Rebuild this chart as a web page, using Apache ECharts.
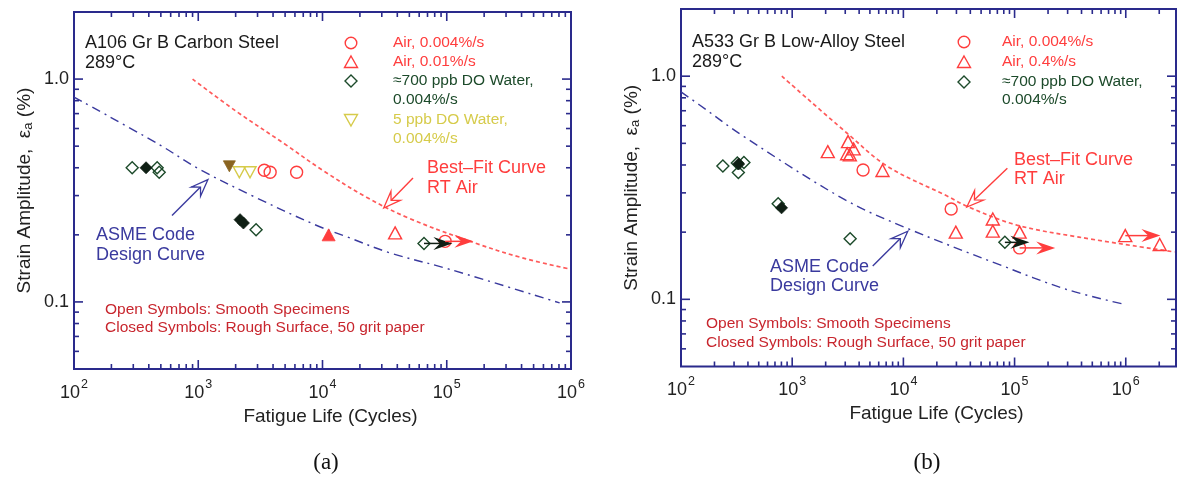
<!DOCTYPE html>
<html>
<head>
<meta charset="utf-8">
<script src="https://cdn.jsdelivr.net/npm/echarts@6/dist/echarts.min.js"></script>
<style>
  html, body { margin: 0; padding: 0; background: #ffffff; }
  #chart { width: 1179px; height: 477px; }
</style>
</head>
<body>
<div id="chart"></div>
<script>
// ---------- Axis ticks ----------
const xMajorTicks = [1e2, 1e3, 1e4, 1e5, 1e6];
const yMajorTicks = [0.1, 1.0];
const minorMultipliers = [2, 3, 4, 5, 6, 7, 8, 9];
const yMinorTicks = [0.06, 0.07, 0.08, 0.09, 0.2, 0.3, 0.4, 0.5, 0.6, 0.7, 0.8, 0.9];

// ---------- (a) A106 Gr B carbon steel, 289°C ----------
// [fatigue life (cycles), strain amplitude (%)]
const a106AirSlowOpen   = [[3400, 0.39], [3790, 0.382], [6190, 0.382], [97000, 0.187]];
const a106AirFastOpen   = [[38400, 0.204]];
const a106AirFastClosed = [[11200, 0.200]];
const a106WaterOpen     = [[294, 0.400], [467, 0.400], [485, 0.382], [2920, 0.211], [65600, 0.183]];
const a106WaterClosed   = [[380, 0.400], [2170, 0.234], [2310, 0.226]];
const a106LowDOOpen     = [[2140, 0.382], [2610, 0.382]];
const a106LowDOClosed   = [[1780, 0.406]];
// run-out tests: [start cycles, strain, arrow tip cycles]
const a106RunoutWater   = [[65600, 0.183, 111000]];
const a106RunoutAir     = [[97000, 0.187, 164000]];
const a106BestFitAir    = [[900, 1.0], [2000, 0.72], [5000, 0.51], [10000, 0.39], [22600, 0.295], [50000, 0.237],
                           [163000, 0.185], [400000, 0.158], [947000, 0.141]];
const a106AsmeDesign    = [[100, 0.83], [480, 0.51], [1030, 0.393], [2770, 0.298], [8700, 0.222], [15700, 0.196],
                           [34900, 0.166], [106000, 0.140], [810000, 0.099]];

// ---------- (b) A533 Gr B low-alloy steel, 289°C ----------
const a533AirSlowOpen   = [[4340, 0.380], [26900, 0.254], [111000, 0.170]];
const a533AirFastOpen   = [[2090, 0.459], [3180, 0.509], [3120, 0.449], [3570, 0.472], [3300, 0.444],
                           [6490, 0.378], [29600, 0.200], [63700, 0.229], [63700, 0.202], [111000, 0.200],
                           [990000, 0.193], [2020000, 0.176]];
const a533WaterOpen     = [[238, 0.396], [321, 0.408], [328, 0.370], [368, 0.410], [748, 0.268], [3320, 0.187], [81800, 0.180]];
const a533WaterClosed   = [[330, 0.404], [802, 0.257]];
const a533RunoutWater   = [[81800, 0.180, 136000]];
const a533RunoutAir     = [[111000, 0.170, 232000], [990000, 0.193, 2050000]];
const a533BestFitAir    = [[807, 1.0], [3120, 0.555], [7210, 0.394], [24500, 0.291], [38700, 0.259], [105000, 0.215],
                           [380000, 0.190], [2750000, 0.163]];
const a533AsmeDesign    = [[100, 0.85], [147, 0.743], [368, 0.536], [3000, 0.279], [10600, 0.209], [73100, 0.143],
                           [290000, 0.111], [968000, 0.095]];

// callout arrows: [tail cycles, tail strain, tip cycles, tip strain]
const a106Callouts = { asme: [615, 0.244, 1197, 0.354], bestFit: [53500, 0.360, 31100, 0.264] };
const a533Callouts = { asme: [5300, 0.141, 10960, 0.202], bestFit: [86100, 0.387, 37200, 0.259] };

// ---------- styling ----------
const AXIS = '#2a2a8c';
const RED = '#ff3d3d';
const GREEN = '#1c4a2a';
const DARK = '#0f1f14';
const YELLOW = '#d6cb4a';
const BROWN = '#8a6420';
const BLUE = '#3a3a9e';
const INK = '#222222';
const FONT = '"Liberation Sans", Arial, Helvetica, sans-serif';
const SERIF = '"Liberation Serif", "Times New Roman", serif';

const panels = [
  { grid: { left: 74, top: 12, width: 497, height: 357 }, xMax: 1e6 },
  { grid: { left: 681, top: 9, width: 496, height: 357.5 }, xMax: 2.83e6 }
];

function tickData(xMax) {
  const d = [];
  xMajorTicks.forEach(v => { if (v <= xMax) d.push([v, 0.05, 0]); });
  xMajorTicks.forEach(v => minorMultipliers.forEach(m => { const t = v * m; if (t < xMax) d.push([t, 0.05, 1]); }));
  yMajorTicks.forEach(v => d.push([100, v, 2]));
  yMinorTicks.forEach(v => d.push([100, v, 3]));
  return d;
}

function tickSeries(idx, xMax) {
  return {
    type: 'custom', xAxisIndex: idx, yAxisIndex: idx, silent: true, clip: false, z: 5,
    dimensions: ['x', 'y', 'k'], encode: { x: 0, y: 1 },
    data: tickData(xMax),
    renderItem(params, api) {
      const cs = params.coordSys;
      const k = api.value(2);
      const p = api.coord([api.value(0), api.value(1)]);
      const len = (k === 0 || k === 2) ? 9 : 5;
      const st = { stroke: AXIS, lineWidth: 1.6 };
      if (k < 2) {
        return { type: 'group', children: [
          { type: 'line', shape: { x1: p[0], y1: cs.y + cs.height, x2: p[0], y2: cs.y + cs.height - len }, style: st },
          { type: 'line', shape: { x1: p[0], y1: cs.y, x2: p[0], y2: cs.y + len }, style: st }
        ]};
      }
      return { type: 'group', children: [
        { type: 'line', shape: { x1: cs.x, y1: p[1], x2: cs.x + len, y2: p[1] }, style: st },
        { type: 'line', shape: { x1: cs.x + cs.width, y1: p[1], x2: cs.x + cs.width - len, y2: p[1] }, style: st }
      ]};
    }
  };
}

function scatter(idx, data, symbol, size, stroke, fill, rotate) {
  return {
    type: 'scatter', xAxisIndex: idx, yAxisIndex: idx, data, symbol, symbolSize: size,
    symbolRotate: rotate || 0, z: 4, silent: true,
    itemStyle: { color: fill || 'rgba(255,255,255,0)', borderColor: stroke, borderWidth: fill ? 0.8 : 1.4, opacity: 1 }
  };
}

function curve(idx, data, color, dash, width) {
  return {
    type: 'line', xAxisIndex: idx, yAxisIndex: idx, data, smooth: 0.35, showSymbol: false, z: 2, silent: true,
    lineStyle: { color, type: dash, width }
  };
}

// solid run-out arrows with a notched head
function runoutSeries(idx, data, color) {
  return {
    type: 'custom', xAxisIndex: idx, yAxisIndex: idx, silent: true, clip: false, z: 6,
    dimensions: ['x0', 'y', 'x1'], encode: { x: [0, 2], y: 1 },
    data,
    renderItem(params, api) {
      const p0 = api.coord([api.value(0), api.value(1)]);
      const p1 = api.coord([api.value(2), api.value(1)]);
      const L = 19, W = 6.5;
      return { type: 'group', children: [
        { type: 'line', shape: { x1: p0[0], y1: p0[1], x2: p1[0] - L * 0.6, y2: p1[1] }, style: { stroke: color, lineWidth: 1.5 } },
        { type: 'polygon', shape: { points: [[p1[0], p1[1]], [p1[0] - L, p1[1] - W], [p1[0] - L * 0.65, p1[1]], [p1[0] - L, p1[1] + W]] },
          style: { fill: color } }
      ]};
    }
  };
}

// hollow callout arrows pointing at the curves
function calloutSeries(idx, data, color) {
  return {
    type: 'custom', xAxisIndex: idx, yAxisIndex: idx, silent: true, clip: false, z: 6,
    dimensions: ['x0', 'y0', 'x1', 'y1'], encode: { x: [0, 2], y: [1, 3] },
    data,
    renderItem(params, api) {
      const a = api.coord([api.value(0), api.value(1)]);
      const b = api.coord([api.value(2), api.value(3)]);
      const dx = b[0] - a[0], dy = b[1] - a[1];
      const n = Math.hypot(dx, dy), ux = dx / n, uy = dy / n, vx = -uy, vy = ux;
      const L = 17, W = 6.5, notch = 0.62;
      const base = [b[0] - ux * L, b[1] - uy * L];
      const nb = [b[0] - ux * L * notch, b[1] - uy * L * notch];
      return { type: 'group', children: [
        { type: 'line', shape: { x1: a[0], y1: a[1], x2: nb[0], y2: nb[1] }, style: { stroke: color, lineWidth: 1.4 } },
        { type: 'polygon', shape: { points: [b, [base[0] + vx * W, base[1] + vy * W], nb, [base[0] - vx * W, base[1] - vy * W]] },
          style: { fill: '#ffffff', stroke: color, lineWidth: 1.3 } }
      ]};
    }
  };
}

const xAxes = panels.map((p, i) => ({
  type: 'log', logBase: 10, gridIndex: i, min: 100, max: p.xMax,
  axisLine: { show: false }, axisTick: { show: false }, splitLine: { show: false },
  name: 'Fatigue Life (Cycles)', nameLocation: 'middle', nameGap: 37,
  nameTextStyle: { fontFamily: FONT, fontSize: 19, color: INK, padding: [0, 0, 0, 16] },
  axisLabel: {
    margin: 9, showMinLabel: true, showMaxLabel: true,
    formatter(v) {
      const e = Math.round(Math.log10(v));
      if (Math.abs(Math.log10(v) - e) > 1e-6) return '';
      return '{b|10}{s|' + e + '}';
    },
    rich: {
      b: { fontFamily: FONT, fontSize: 18, color: INK, verticalAlign: 'bottom', padding: [6, 0, 0, 0] },
      s: { fontFamily: FONT, fontSize: 12.5, color: INK, verticalAlign: 'top', padding: [0, 0, 0, 1] }
    }
  }
}));

const yAxes = panels.map((p, i) => ({
  type: 'log', logBase: 10, gridIndex: i, min: 0.05, max: 2,
  axisLine: { show: false }, axisTick: { show: false }, splitLine: { show: false },
  name: '{t|Strain Amplitude,  ε}{sub|a}{t| (%)}', nameLocation: 'middle', nameRotate: 90, nameGap: 39,
  nameTextStyle: {
    rich: {
      t: { fontFamily: FONT, fontSize: 19, color: INK },
      sub: { fontFamily: FONT, fontSize: 13, color: INK, verticalAlign: 'bottom', padding: [7, 0, 0, 0] }
    }
  },
  axisLabel: {
    margin: 5, fontFamily: FONT, fontSize: 18, color: INK,
    formatter(v) {
      if (Math.abs(v - 0.1) < 1e-6) return '0.1';
      if (Math.abs(v - 1) < 1e-6) return '1.0';
      return '';
    }
  }
}));

const series = [
  tickSeries(0, panels[0].xMax),
  tickSeries(1, panels[1].xMax),

  curve(0, a106BestFitAir, '#ff5a5a', [4, 3], 1.7),
  curve(0, a106AsmeDesign, BLUE, [9, 5, 2, 5], 1.4),
  curve(1, a533BestFitAir, '#ff5a5a', [4, 3], 1.7),
  curve(1, a533AsmeDesign, BLUE, [9, 5, 2, 5], 1.4),

  scatter(0, a106WaterOpen, 'diamond', 12, GREEN),
  scatter(0, a106WaterClosed, 'diamond', 12, DARK, DARK),
  scatter(0, a106LowDOOpen, 'triangle', [12, 11], YELLOW, null, 180),
  scatter(0, a106LowDOClosed, 'triangle', [12, 11], BROWN, BROWN, 180),
  scatter(0, a106AirSlowOpen, 'circle', 12, RED),
  scatter(0, a106AirFastOpen, 'triangle', [13, 12], RED),
  scatter(0, a106AirFastClosed, 'triangle', [13, 12], RED, RED),

  scatter(1, a533WaterOpen, 'diamond', 12, GREEN),
  scatter(1, a533WaterClosed, 'diamond', 12, DARK, DARK),
  scatter(1, a533AirSlowOpen, 'circle', 12, RED),
  scatter(1, a533AirFastOpen, 'triangle', [13, 12], RED),

  runoutSeries(0, a106RunoutWater, DARK),
  runoutSeries(0, a106RunoutAir, RED),
  runoutSeries(1, a533RunoutWater, DARK),
  runoutSeries(1, a533RunoutAir, RED),

  calloutSeries(0, [a106Callouts.asme], BLUE),
  calloutSeries(0, [a106Callouts.bestFit], RED),
  calloutSeries(1, [a533Callouts.asme], BLUE),
  calloutSeries(1, [a533Callouts.bestFit], RED)
];

// ---------- text blocks and symbol key ----------
function txt(text, x, y, color, size, family, align) {
  return { type: 'text', x, y, z: 10, silent: true,
    style: { text, fill: color, fontSize: size, fontFamily: family || FONT, verticalAlign: 'middle', align: align || 'left' } };
}
function keyCircle(cx, cy, color) {
  return { type: 'circle', z: 10, silent: true, shape: { cx, cy, r: 5.8 }, style: { fill: 'none', stroke: color, lineWidth: 1.4 } };
}
function keyTriangle(cx, cy, color, down) {
  const s = down ? -1 : 1;
  return { type: 'polygon', z: 10, silent: true,
    shape: { points: [[cx, cy - 6 * s], [cx + 6.5, cy + 5.5 * s], [cx - 6.5, cy + 5.5 * s]] },
    style: { fill: 'none', stroke: color, lineWidth: 1.4 } };
}
function keyDiamond(cx, cy, color) {
  return { type: 'polygon', z: 10, silent: true,
    shape: { points: [[cx, cy - 6], [cx + 6, cy], [cx, cy + 6], [cx - 6, cy]] },
    style: { fill: 'none', stroke: color, lineWidth: 1.4 } };
}

const TITLE = 18, KEY = 15.5, NOTE = 18, FOOT = 15.5;
const graphic = [
  // panel (a)
  txt('A106 Gr B Carbon Steel', 85, 43, '#1a1a1a', TITLE),
  txt('289°C', 85, 63, '#1a1a1a', TITLE),
  keyCircle(351, 43, RED), txt('Air, 0.004%/s', 393, 43, RED, KEY),
  keyTriangle(351, 62, RED), txt('Air, 0.01%/s', 393, 62, RED, KEY),
  keyDiamond(351, 81, GREEN), txt('≈700 ppb DO Water,', 393, 81, GREEN, KEY),
  txt('0.004%/s', 393, 100, GREEN, KEY),
  keyTriangle(351, 120, YELLOW, true), txt('5 ppb DO Water,', 393, 120, YELLOW, KEY),
  txt('0.004%/s', 393, 139, YELLOW, KEY),
  txt('Best–Fit Curve', 427, 168, RED, NOTE),
  txt('RT Air', 427, 188, RED, NOTE),
  txt('ASME Code', 96, 235, BLUE, NOTE),
  txt('Design Curve', 96, 255, BLUE, NOTE),
  txt('Open Symbols: Smooth Specimens', 105, 310, '#c8262e', FOOT),
  txt('Closed Symbols: Rough Surface, 50 grit paper', 105, 328, '#c8262e', FOOT),
  txt('(a)', 326, 463, '#111', 23, SERIF, 'center'),

  // panel (b)
  txt('A533 Gr B Low-Alloy Steel', 692, 42, '#1a1a1a', TITLE),
  txt('289°C', 692, 62, '#1a1a1a', TITLE),
  keyCircle(964, 42, RED), txt('Air, 0.004%/s', 1002, 42, RED, KEY),
  keyTriangle(964, 62, RED), txt('Air, 0.4%/s', 1002, 62, RED, KEY),
  keyDiamond(964, 82, GREEN), txt('≈700 ppb DO Water,', 1002, 82, GREEN, KEY),
  txt('0.004%/s', 1002, 100, GREEN, KEY),
  txt('Best–Fit Curve', 1014, 160, RED, NOTE),
  txt('RT Air', 1014, 179, RED, NOTE),
  txt('ASME Code', 770, 267, BLUE, NOTE),
  txt('Design Curve', 770, 286, BLUE, NOTE),
  txt('Open Symbols: Smooth Specimens', 706, 324, '#c8262e', FOOT),
  txt('Closed Symbols: Rough Surface, 50 grit paper', 706, 343, '#c8262e', FOOT),
  txt('(b)', 927, 463, '#111', 23, SERIF, 'center')
];

const chart = echarts.init(document.getElementById('chart'), null, { renderer: 'canvas' });
chart.setOption({
  backgroundColor: '#ffffff',
  animation: false,
  grid: panels.map(p => Object.assign({ show: true, borderColor: AXIS, borderWidth: 2, backgroundColor: 'transparent' }, p.grid)),
  xAxis: xAxes,
  yAxis: yAxes,
  series,
  graphic
});
</script>
</body>
</html>
